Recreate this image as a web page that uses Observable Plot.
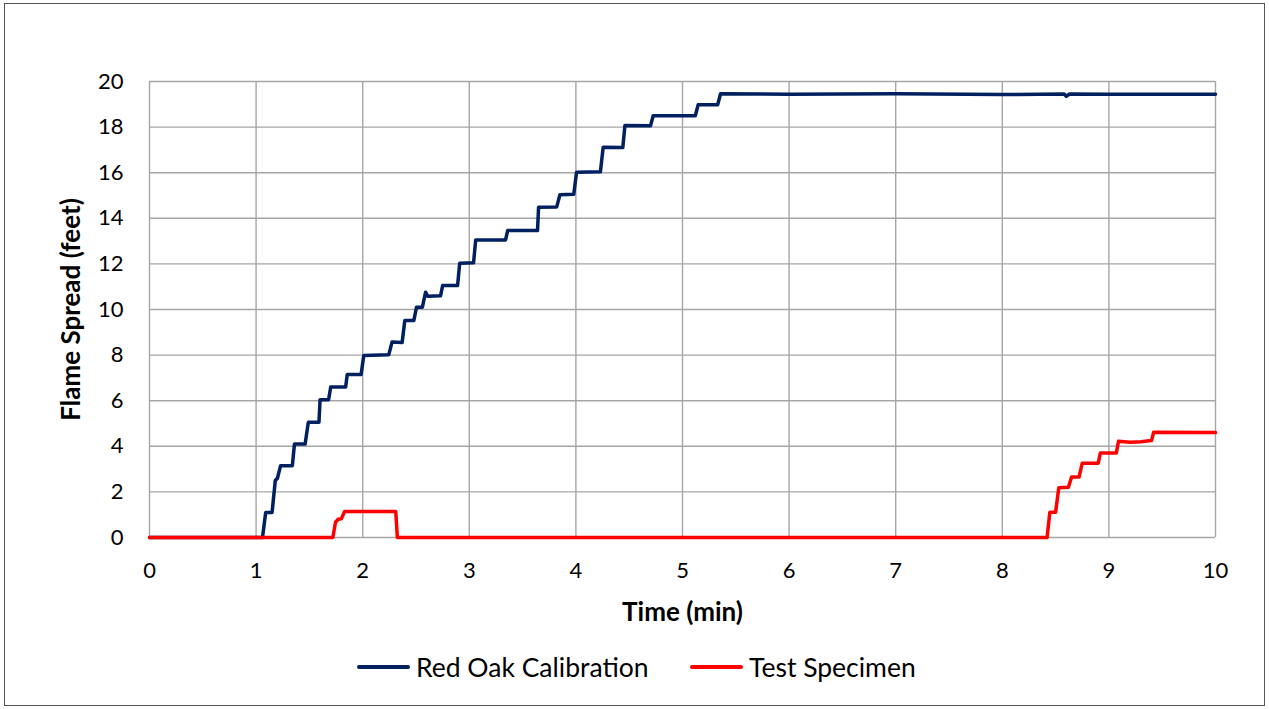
<!DOCTYPE html>
<html>
<head>
<meta charset="utf-8">
<script src="https://cdn.jsdelivr.net/npm/d3@7"></script>
<script src="https://cdn.jsdelivr.net/npm/@observablehq/plot@0.6"></script>
<style>
  html, body { margin: 0; padding: 0; background: #fff; }
  #wrap { position: relative; width: 1269px; height: 709px; font-family: Lato, "Open Sans", sans-serif; }
  #border { position: absolute; left: 4px; top: 3px; width: 1259px; height: 701px; border: 1.5px solid #555; pointer-events: none; }
  #chart { position: absolute; left: 0; top: 0; }
  #chart svg [aria-label="x-axis label"], #chart svg [aria-label="y-axis label"] { font-weight: bold; font-size: 26px; }
  .leg { position: absolute; top: 651px; height: 32px; display: flex; align-items: center; font-size: 26.5px; color: #000; white-space: nowrap; }
  .leg .sw { width: 53px; height: 3.5px; border-radius: 2px; margin-right: 6px; }
</style>
</head>
<body>
<div id="wrap">
  <div id="chart"></div>
  <div class="leg" style="left:357px"><div class="sw" style="background:#002060"></div><span id="l1"></span></div>
  <div class="leg" style="left:690px"><div class="sw" style="background:#ff0000"></div><span id="l2"></span></div>
  <div id="border"></div>
</div>
<script>
const seriesNames = ["Red Oak Calibration", "Test Specimen"];
const seriesColors = ["#002060", "#ff0000"];
const xTicks = [0,1,2,3,4,5,6,7,8,9,10];
const yTicks = [0,2,4,6,8,10,12,14,16,18,20];
const xLabel = "Time (min)";
const yLabel = "Flame Spread (feet)";

// Red Oak Calibration (time in min, flame spread in feet)
const oakTime = [0,0.5,1.06,1.09,1.15,1.18,1.20,1.23,1.34,1.36,1.46,1.49,1.59,1.60,1.68,1.70,1.84,1.855,1.985,2.01,2.245,2.275,2.37,2.395,2.48,2.505,2.56,2.59,2.61,2.73,2.75,2.89,2.91,3.04,3.06,3.34,3.36,3.64,3.65,3.82,3.85,3.98,4.006,4.23,4.256,4.44,4.46,4.70,4.725,5.12,5.147,5.33,5.357,6,7,8,8.58,8.6,8.63,9,10];
const oakSpread = [0,0,0,1.1,1.1,2.5,2.6,3.15,3.15,4.1,4.1,5.06,5.06,6.04,6.04,6.6,6.6,7.15,7.15,7.98,8.02,8.57,8.55,9.52,9.52,10.1,10.1,10.76,10.58,10.6,11.05,11.05,12.03,12.05,13.05,13.05,13.46,13.46,14.49,14.5,15.03,15.05,16.02,16.04,17.12,17.1,18.07,18.06,18.5,18.5,18.98,18.98,19.46,19.44,19.46,19.43,19.45,19.35,19.45,19.44,19.44];

// Test Specimen
const specTime = [0,1.72,1.745,1.77,1.8,1.83,2.31,2.325,5,8.42,8.446,8.50,8.53,8.62,8.65,8.72,8.75,8.90,8.92,9.07,9.09,9.2,9.3,9.4,9.42,10];
const specSpread = [0,0,0.67,0.8,0.82,1.14,1.14,0,0,0,1.11,1.11,2.18,2.2,2.65,2.65,3.26,3.26,3.71,3.71,4.22,4.18,4.2,4.25,4.62,4.6];

const oak = oakTime.map((t,i) => ({t, v: oakSpread[i]}));
const spec = specTime.map((t,i) => ({t, v: specSpread[i]}));

const grid = {stroke: "#a6a6a6", strokeOpacity: 1, strokeWidth: 1.4};
const chart = Plot.plot({
  width: 1269, height: 640,
  marginLeft: 149, marginRight: 54, marginTop: 81, marginBottom: 103,
  x: {domain: [0, 10]},
  y: {domain: [0, 20]},
  style: {fontFamily: "Lato, 'Open Sans', sans-serif", fontSize: "22px", color: "#000", background: "transparent"},
  marks: [
    Plot.gridX(xTicks, grid),
    Plot.gridY(yTicks, grid),
    Plot.line(oak, {x: "t", y: "v", stroke: seriesColors[0], strokeWidth: 3.5}),
    Plot.line(spec, {x: "t", y: "v", stroke: seriesColors[1], strokeWidth: 3.5}),
    Plot.axisX(xTicks, {tickSize: 0, tickPadding: 25, label: xLabel, labelAnchor: "center", labelOffset: 83, labelArrow: "none"}),
    Plot.axisY(yTicks, {tickSize: 0, tickPadding: 26, label: yLabel, labelAnchor: "center", labelOffset: 88, labelArrow: "none"})
  ]
});
document.getElementById("chart").appendChild(chart);
document.getElementById("l1").textContent = seriesNames[0];
document.getElementById("l2").textContent = seriesNames[1];
</script>
</body>
</html>
